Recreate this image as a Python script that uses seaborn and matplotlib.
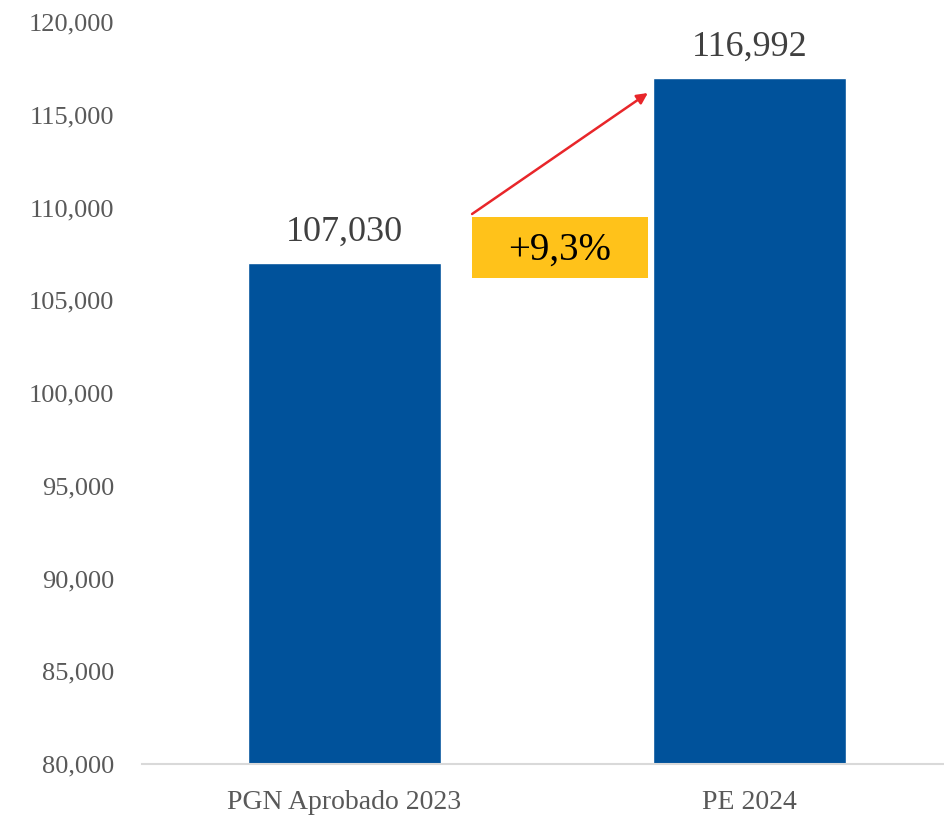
import matplotlib
matplotlib.use("Agg")
import matplotlib.pyplot as plt
import matplotlib.ticker as mticker
import pandas as pd
import seaborn as sns

# --- data ---
categories = ["PGN Aprobado 2023", "PE 2024"]
values = [107030, 116992]
value_labels = ["107,030", "116,992"]
growth_label = "+9,3%"

BAR_COLOR = "#00529B"
BOX_COLOR = "#FFC21A"
ARROW_COLOR = "#E8262A"

sns.set_style("white")
plt.rcParams["font.family"] = ["Liberation Serif", "DejaVu Serif"]

df = pd.DataFrame({"categoria": categories, "valor": values})

fig = plt.figure(figsize=(9.45, 8.16), dpi=100)
ax = fig.add_axes([142 / 945, 52 / 816, 810 / 945, 742 / 816])

sns.barplot(data=df, x="categoria", y="valor", color=BAR_COLOR, width=0.477,
            saturation=1, ax=ax)

ax.set_ylim(80000, 120000)
ax.set_xlim(-0.5, 1.5)
ax.yaxis.set_major_locator(mticker.MultipleLocator(5000))
ax.yaxis.set_major_formatter(mticker.StrMethodFormatter("{x:,.0f}"))
ax.set_xlabel("")
ax.set_ylabel("")

for side in ["top", "right", "left"]:
    ax.spines[side].set_visible(False)
ax.spines["bottom"].set_color("#D9D9D9")
ax.spines["bottom"].set_linewidth(1.5)

ax.tick_params(axis="y", length=0, pad=20, labelsize=19, labelcolor="#595959")
ax.tick_params(axis="x", length=0, pad=19, labelsize=20, labelcolor="#595959")

# value labels above bars
for i, (v, lab) in enumerate(zip(values, value_labels)):
    ax.text(i, v + 750, lab, ha="center", va="bottom", fontsize=26, color="#404040")

# growth box and arrow
x0, x1 = 0.315, 0.749
ax.add_patch(plt.Rectangle((x0, 106200), x1 - x0, 3290, facecolor=BOX_COLOR,
                           edgecolor="none", zorder=3))
ax.text((x0 + x1) / 2, 107700, growth_label, ha="center", va="center",
        fontsize=28, color="black", zorder=4)
ax.annotate("", xy=(x1, 116172), xytext=(x0, 109650),
            arrowprops=dict(arrowstyle="-|>", color=ARROW_COLOR, lw=1.8,
                            mutation_scale=16, shrinkA=0, shrinkB=0))

fig.savefig("out.png", dpi=100)
